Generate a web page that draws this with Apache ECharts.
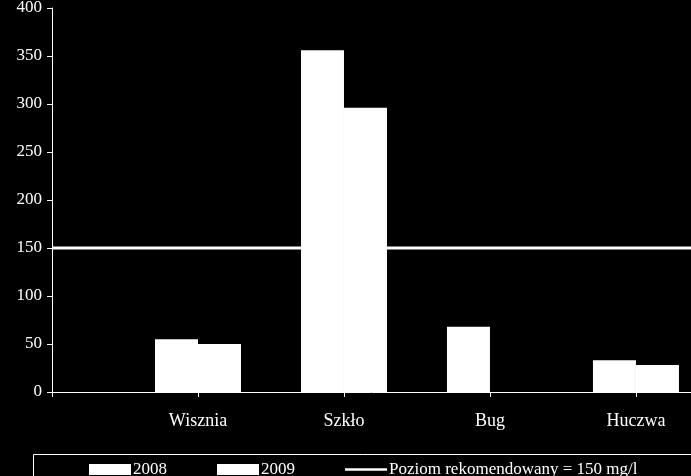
<!DOCTYPE html>
<html><head><meta charset="utf-8">
<script src="https://cdn.jsdelivr.net/npm/echarts@6/dist/echarts.min.js"></script>
<style>body{margin:0;background:#000}#c{width:691px;height:476px}</style>
</head><body><div id="c"></div>
<script>
var categories = ['', 'Wisznia', 'Szkło', 'Bug', 'Huczwa'];
var data2008 = [55, 356, 68, 33];
var data2009 = [50, 296, 0, 28];
var limitValue = 150;
var font = 'Liberation Serif';
var xMax = 4.377;

function pts(vals){
	var out=[];
	for(var i=0;i<vals.length;i++){ out.push([i+1, vals[i]]); }
	return out;
}

var myChart = echarts.init(document.getElementById('c'));
var option = {
	backgroundColor: '#000',
	animation: false,
	textStyle: {fontFamily: font, color: '#fff'},
	grid: {left: 52, right: 0, top: 8, bottom: 84, outerBoundsMode: 'none', containLabel: false},
	graphic: [{type: 'rect', left: 31, top: 452, shape: {width: 700, height: 40},
		style: {fill: 'none', stroke: '#fff', lineWidth: 1}}],
	legend: {
		left: 84, top: 456,
		itemGap: 50, itemWidth: 42, itemHeight: 11,
		textStyle: {color: '#fff', fontFamily: font, fontSize: 17, padding: [0,0,0,-3]},
		data: [
			{name: '2008', icon: 'rect'},
			{name: '2009', icon: 'rect'},
			{name: 'Poziom rekomendowany = 150 mg/l', icon: 'path://M0,4.2L42,4.2L42,6.8L0,6.8Z'}
		]
	},
	xAxis: {
		type: 'value', min: 0, max: xMax, interval: 1,
		splitLine: {show: false},
		axisLine: {show: true, lineStyle: {color: '#fff'}},
		axisTick: {show: true, length: 5, lineStyle: {color: '#fff'}},
		axisLabel: {color: '#fff', fontFamily: font, fontSize: 18, margin: 20, showMaxLabel: false,
			formatter: function(v){ return v === Math.round(v) ? (categories[v] || '') : ''; }}
	},
	yAxis: {
		type: 'value', min: 0, max: 400, interval: 50,
		splitLine: {show: false},
		axisLine: {show: true, lineStyle: {color: '#fff'}},
		axisTick: {show: true, length: 5, lineStyle: {color: '#fff'}},
		axisLabel: {color: '#fff', fontFamily: font, fontSize: 17, margin: 10}
	},
	series: [
		{name: '2008', type: 'bar', data: pts(data2008), barWidth: 43, barGap: '0%',
			itemStyle: {color: '#fff'}},
		{name: '2009', type: 'bar', data: pts(data2009), barWidth: 43, barGap: '0%',
			itemStyle: {color: '#fff'}},
		{name: 'Poziom rekomendowany = 150 mg/l', type: 'line', symbol: 'none',
			data: [[0, limitValue], [xMax, limitValue]],
			lineStyle: {color: '#fff', width: 3}, itemStyle: {color: '#fff'}, z: 5}
	]
};
myChart.setOption(option);
</script></body></html>
